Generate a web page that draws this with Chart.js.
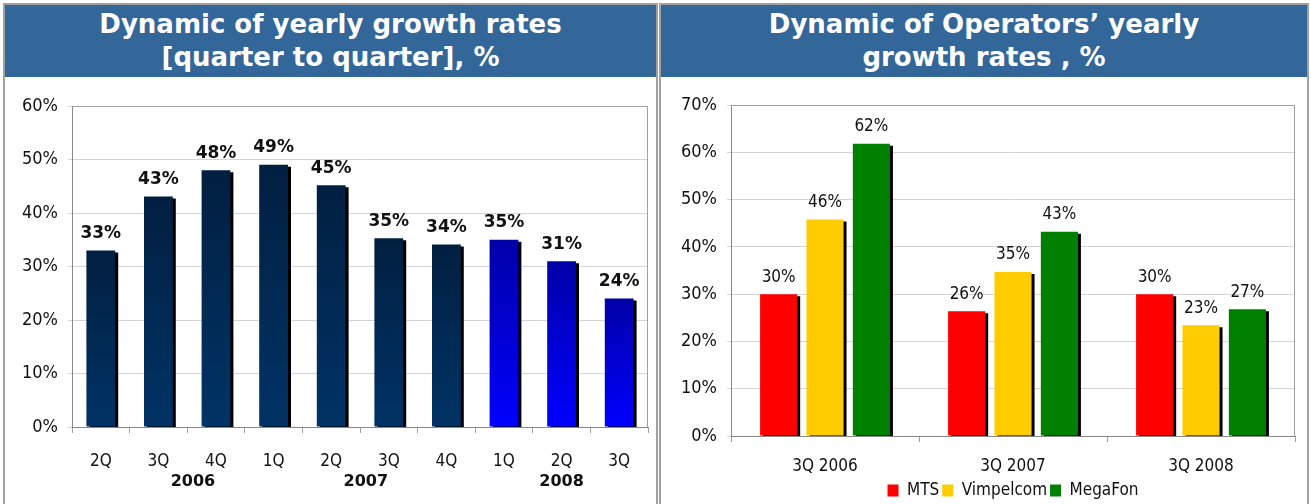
<!DOCTYPE html>
<html>
<head>
<meta charset="utf-8">
<script src="https://cdn.jsdelivr.net/npm/chart.js@4.4.1/dist/chart.umd.min.js"></script>
<style>
  body { margin: 0; background: #fff; width: 1311px; height: 504px; overflow: hidden; position: relative; }
  .panel { position: absolute; top: 3px; height: 520px; border: 2px solid #a0a0a0; background: #fff; }
  #pLeft { left: 3px; width: 651px; }
  #pRight { left: 659px; width: 646px; }
  .head {
    height: 72px; background: #336699; color: #fff; text-align: center;
    font: bold 26px "DejaVu Sans", sans-serif; line-height: 33px;
    padding-top: 3px; box-sizing: border-box;
  }
  canvas { display: block; }
</style>
</head>
<body>
<div class="panel" id="pLeft">
  <div class="head">Dynamic of yearly growth rates<br>[quarter to quarter], %</div>
  <div style="width:651px;height:426px"><canvas id="graficoEsq"></canvas></div>
</div>
<div class="panel" id="pRight">
  <div class="head">Dynamic of Operators’ yearly<br>growth rates , %</div>
  <div style="width:646px;height:426px"><canvas id="graficoDir"></canvas></div>
</div>
<script>
// dados - grafico da esquerda
const quarters = ['2Q', '3Q', '4Q', '1Q', '2Q', '3Q', '4Q', '1Q', '2Q', '3Q'];
const growth = [33, 43.1, 48, 49, 45.2, 35.3, 34.1, 35, 31, 24];
const years = ['2006', '2007', '2008'];
const yearAt = [1.6, 4.6, 8];   // posicao do ano no eixo de categorias
const leftTicks = [0, 10, 20, 30, 40, 50, 60];

// dados - grafico da direita
const periods = ['3Q 2006', '3Q 2007', '3Q 2008'];
const mts = [30, 26.4, 30];
const vimpelcom = [45.8, 34.7, 23.4];
const megafon = [61.8, 43.2, 26.8];
const rightTicks = [0, 10, 20, 30, 40, 50, 60, 70];

const FONTE = '"DejaVu Sans Condensed", "DejaVu Sans", sans-serif';
const FONTE_BOLD = '"DejaVu Sans", sans-serif';

// sombra preta nas barras
const sombra = {
  id: 'sombra',
  beforeDatasetsDraw(chart) {
    const c = chart.ctx;
    c.save();
    c.shadowColor = '#000';
    c.shadowOffsetX = 3;
    c.shadowOffsetY = 2;
    c.shadowBlur = 0;
  },
  afterDatasetsDraw(chart) {
    chart.ctx.restore();
  }
};

// borda da area do grafico
const moldura = {
  id: 'moldura',
  beforeDatasetsDraw(chart) {
    const { ctx, chartArea } = chart;
    ctx.save();
    ctx.strokeStyle = '#a0a0a0';
    ctx.lineWidth = 1;
    ctx.beginPath();
    ctx.moveTo(chartArea.left, chartArea.top + 0.5);
    ctx.lineTo(chartArea.right - 0.5, chartArea.top + 0.5);
    ctx.lineTo(chartArea.right - 0.5, chartArea.bottom);
    ctx.stroke();
    ctx.restore();
  }
};

function rotulos(fonte) {
  return {
    id: 'rotulos',
    afterDraw(chart) {
      const ctx = chart.ctx;
      ctx.save();
      ctx.font = fonte;
      ctx.fillStyle = '#111';
      ctx.textAlign = 'center';
      ctx.textBaseline = 'middle';
      chart.data.datasets.forEach((ds, i) => {
        chart.getDatasetMeta(i).data.forEach((bar, j) => {
          ctx.fillText(Math.round(ds.data[j]) + '%', bar.x, bar.y - 17);
        });
      });
      ctx.restore();
    }
  };
}

const anosPlugin = {
  id: 'anos',
  afterDraw(chart) {
    const ctx = chart.ctx;
    const x = chart.scales.x;
    ctx.save();
    ctx.font = 'bold 16px ' + FONTE_BOLD;
    ctx.fillStyle = '#111';
    ctx.textAlign = 'center';
    ctx.textBaseline = 'middle';
    years.forEach((ano, i) => {
      ctx.fillText(ano, x.getPixelForValue(yearAt[i]), 405);
    });
    ctx.restore();
  }
};

function corBarra(c) {
  const chart = c.chart;
  const azul = c.dataIndex >= 7;
  if (!chart.chartArea || !chart.scales.y) return azul ? '#0000d0' : '#002a55';
  const y = chart.scales.y;
  const topo = y.getPixelForValue(c.raw);
  const base = y.getPixelForValue(0);
  const g = chart.ctx.createLinearGradient(0, topo, 0, base);
  if (azul) {
    g.addColorStop(0, '#0000a8');
    g.addColorStop(1, '#0000ff');
  } else {
    g.addColorStop(0, '#011f40');
    g.addColorStop(1, '#003366');
  }
  return g;
}

new Chart(graficoEsq, {
  type: 'bar',
  data: {
    labels: quarters,
    datasets: [{
      data: growth,
      backgroundColor: corBarra,
      borderWidth: 0,
      barPercentage: 0.5,
      categoryPercentage: 1
    }]
  },
  options: {
    responsive: true,
    maintainAspectRatio: false,
    animation: false,
    layout: { padding: { top: 29, right: 8, left: 0, bottom: 0 } },
    plugins: { legend: { display: false }, tooltip: { enabled: false } },
    scales: {
      x: {
        afterFit(axis) { axis.height = 76; },
        grid: { display: true, drawOnChartArea: false, offset: true, tickLength: 6, color: '#a0a0a0' },
        border: { color: '#888' },
        ticks: { color: '#111', font: { family: FONTE, size: 17 }, padding: 18 }
      },
      y: {
        min: 0, max: 60,
        afterFit(axis) { axis.width = 67; },
        afterBuildTicks(axis) { axis.ticks = leftTicks.map(v => ({ value: v })); },
        grid: { color: '#d4d4d4', tickLength: 4 },
        border: { color: '#888' },
        ticks: { color: '#111', font: { family: FONTE, size: 18 }, padding: 10, callback: v => v + '%' }
      }
    }
  },
  plugins: [moldura, sombra, rotulos('bold 17px ' + FONTE_BOLD), anosPlugin]
});

new Chart(graficoDir, {
  type: 'bar',
  data: {
    labels: periods,
    datasets: [
      { label: 'MTS', data: mts, backgroundColor: '#ff0000' },
      { label: 'Vimpelcom', data: vimpelcom, backgroundColor: '#ffcc00' },
      { label: 'MegaFon', data: megafon, backgroundColor: '#008000' }
    ]
  },
  options: {
    responsive: true,
    maintainAspectRatio: false,
    animation: false,
    datasets: { bar: { barPercentage: 0.8, categoryPercentage: 0.74, borderWidth: 0 } },
    layout: { padding: { top: 28, right: 12, left: 0, bottom: -6 } },
    plugins: {
      tooltip: { enabled: false },
      legend: {
        position: 'bottom',
        fullSize: false,
        labels: {
          color: '#111',
          font: { family: FONTE, size: 17 },
          boxWidth: 11,
          boxHeight: 12,
          padding: 3
        }
      }
    },
    scales: {
      x: {
        afterFit(axis) { axis.height = 43; },
        grid: { display: true, drawOnChartArea: false, offset: true, tickLength: 6, color: '#a0a0a0' },
        border: { color: '#888' },
        ticks: { color: '#111', font: { family: FONTE, size: 17 }, padding: 14 }
      },
      y: {
        min: 0, max: 70,
        afterFit(axis) { axis.width = 70; },
        afterBuildTicks(axis) { axis.ticks = rightTicks.map(v => ({ value: v })); },
        grid: { color: '#d4d4d4', tickLength: 4 },
        border: { color: '#888' },
        ticks: { color: '#111', font: { family: FONTE, size: 18 }, padding: 10, callback: v => v + '%' }
      }
    }
  },
  plugins: [moldura, sombra, rotulos('17px ' + FONTE)]
});
</script>
</body>
</html>
